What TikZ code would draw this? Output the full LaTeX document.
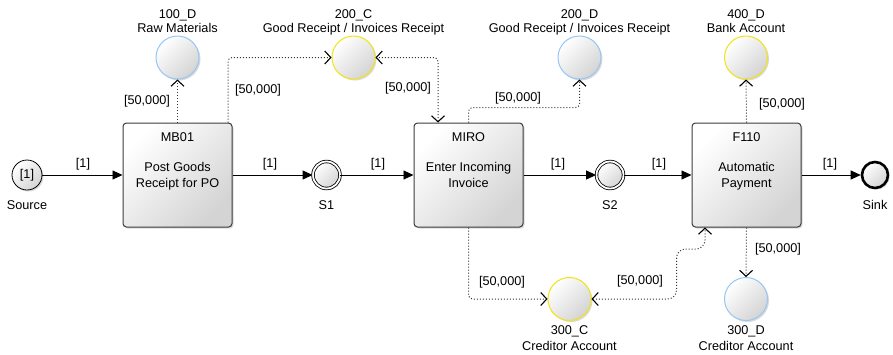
\documentclass[tikz,border=0pt]{standalone}
\usepackage{fontspec}
\setmainfont{Liberation Sans}
\usetikzlibrary{arrows.meta,shadows,calc}
\definecolor{ryel}{RGB}{240,228,20}
\definecolor{rblu}{RGB}{150,198,245}
\definecolor{boxline}{RGB}{60,60,60}
\tikzset{
  txt/.style={font=\fontsize{12.7}{16}\selectfont, inner sep=0pt, align=center},
  gshade/.style={top color=white, bottom color=black!17, shading angle=45},
  shad/.style={drop shadow={shadow xshift=1.5pt, shadow yshift=-1.5pt, opacity=0.3}},
  task/.style={draw=boxline, line width=1pt, rounded corners=3.5pt, minimum width=109pt, minimum height=104pt, gshade, shad, inner sep=0pt},
  resy/.style={circle, draw=ryel, line width=1pt, minimum size=43pt, gshade, shad, inner sep=0pt},
  resb/.style={circle, draw=rblu, line width=1pt, minimum size=43pt, gshade, shad, inner sep=0pt},
  srcst/.style={circle, draw=black, line width=0.8pt, minimum size=30pt, gshade, shad, inner sep=0pt, font=\fontsize{12.7}{16}\selectfont},
  stopst/.style={circle, draw=black, line width=0.8pt, double=white, double distance=1.8pt, minimum size=27pt, gshade, shad, inner sep=0pt},
  sinkst/.style={circle, draw=black, line width=2.6pt, minimum size=26pt, gshade, shad, inner sep=0pt},
  flow/.style={-{Triangle[length=10pt,width=9pt]}, line width=0.9pt},
  res/.style={dash pattern=on 1pt off 2pt, line width=1pt, draw=black!80, rounded corners=4pt, -{Straight Barb[length=6pt,width=13pt,line width=1.1pt,black]}},
  resboth/.style={res, {Straight Barb[length=6pt,width=13pt,line width=1.1pt,black]}-{Straight Barb[length=6pt,width=13pt,line width=1.1pt,black]}},
}
\begin{document}
\begin{tikzpicture}[x=1pt,y=-1pt]
\useasboundingbox (0,0) rectangle (893,354);

% main nodes
\node[srcst] (src) at (27,175) {[1]};
\node[task] (mb01) at (177.5,175) {};
\node[txt, anchor=north] (mb01t) at ([yshift=-10pt]mb01.north) {MB01\\[14pt]Post Goods\\Receipt for PO};
\node[stopst] (s1) at (326.5,175) {};
\node[task] (miro) at (468.5,175) {};
\node[txt, anchor=north] (mirot) at ([yshift=-10pt]miro.north) {MIRO\\[14pt]Enter Incoming\\Invoice};
\node[stopst] (s2) at (610,175) {};
\node[task] (f110) at (746.5,175) {};
\node[txt, anchor=north] (f110t) at ([yshift=-10pt]f110.north) {F110\\[14pt]Automatic\\Payment};
\node[sinkst] (sink) at (875,175) {};

\node[txt, anchor=north] (srcl) at (27,200) {Source};
\node[txt, anchor=north] (s1l) at (326.5,200) {S1};
\node[txt, anchor=north] (s2l) at (610,200) {S2};
\node[txt, anchor=north] (sinkl) at (875,200) {Sink};

% resources
\node[resb] (r100) at (177.5,57.5) {};
\node[resy] (r200c) at (353.5,57.5) {};
\node[resb] (r200d) at (579.5,57.5) {};
\node[resy] (r400) at (746,57.5) {};
\node[resy] (r300c) at (569.5,299) {};
\node[resb] (r300d) at (746,299) {};

\node[txt, anchor=north, font=\fontsize{12.7}{14.5}\selectfont] (r100l) at (177.5,9.3) {100\_D\\Raw Materials};
\node[txt, anchor=north, font=\fontsize{12.7}{14.5}\selectfont] (r200cl) at (353.5,9.3) {200\_C\\Good Receipt / Invoices Receipt};
\node[txt, anchor=north, font=\fontsize{12.7}{14.5}\selectfont] (r200dl) at (579.5,9.3) {200\_D\\Good Receipt / Invoices Receipt};
\node[txt, anchor=north, font=\fontsize{12.7}{14.5}\selectfont] (r400l) at (746,9.3) {400\_D\\Bank Account};
\node[txt, anchor=north, font=\fontsize{12.7}{16.7}\selectfont] (r300cl) at (569.5,325) {300\_C\\Creditor Account};
\node[txt, anchor=north, font=\fontsize{12.7}{16.7}\selectfont] (r300dl) at (746,325) {300\_D\\Creditor Account};

% flow connectors
\draw[flow] (src) -- (mb01);
\draw[flow] (mb01) -- (s1);
\draw[flow] (s1) -- (miro);
\draw[flow] (miro) -- (s2);
\draw[flow] (s2) -- (f110);
\draw[flow] (f110) -- (sink);

\node[txt] (f1) at (83,164.5) {[1]};
\node[txt] (f2) at (270,164.5) {[1]};
\node[txt] (f3) at (378,164.5) {[1]};
\node[txt] (f4) at (558,164.5) {[1]};
\node[txt] (f5) at (659,164.5) {[1]};
\node[txt] (f6) at (830,164.5) {[1]};

% resource connectors
\draw[res] (mb01.north) -- (r100.south);
\draw[res] ([xshift=50.5pt]mb01.north) |- (r200c.west);
\draw[resboth] ([xshift=-30.5pt]miro.north) |- (r200c.east);
\draw[res] (miro.north) -- ++(0,-15) -| (r200d.south);
\draw[res] (f110.north) -- (r400.south);
\draw[res] (miro.south) |- (r300c.west);
\draw[resboth, rounded corners=9pt] (r300c.east) -- ++(85,0) -- ++(0,-50) -| ([xshift=-41.5pt]f110.south);
\draw[res] (f110.south) -- (r300d.north);

\node[txt] (q1) at (147,101) {[50,000]};
\node[txt] (q2) at (258,90) {[50,000]};
\node[txt] (q3) at (408,88) {[50,000]};
\node[txt] (q4) at (518,98) {[50,000]};
\node[txt] (q5) at (782,104) {[50,000]};
\node[txt] (q6) at (502,282) {[50,000]};
\node[txt] (q7) at (640,281) {[50,000]};
\node[txt] (q8) at (778,249) {[50,000]};
\end{tikzpicture}
\end{document}
